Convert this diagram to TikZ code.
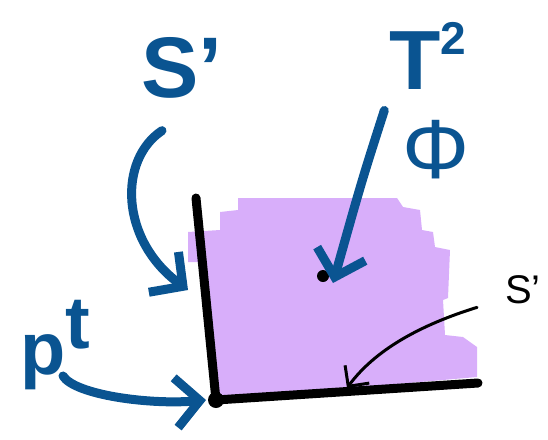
\documentclass[tikz,border=0pt]{standalone}
\usepackage{fontspec}
\setmainfont{Liberation Sans}
\usetikzlibrary{arrows.meta,positioning,calc}
\usepackage{xcolor}
\definecolor{SketchBlue}{HTML}{0A5491}
\definecolor{SketchLilac}{HTML}{D8AEFA}

\begin{document}
\begin{tikzpicture}[x=1pt,y=-1pt,line cap=round,line join=round,
    every node/.style={inner sep=0pt,text=SketchBlue,font=\bfseries},
    bluearrow/.style={-{Straight Barb[length=24pt,width=50pt]},line width=9pt,SketchBlue},
    thinarrow/.style={-{Straight Barb[length=15pt,width=30pt]},line width=3pt,black}]
    \useasboundingbox (0,0) rectangle (548,439);
    % shaded quadrant
    \fill[SketchLilac] (188,262) -- (188,232) -- (220,230) -- (220,212) -- (238,210) -- (238,198) -- (397,198) -- (403,207) -- (420,210) -- (422,230) -- (433,232) -- (435,247) -- (450,250) -- (448,298) -- (443,300) -- (445,335) -- (463,337) -- (477,347) -- (477,377) -- (216,400) -- (206,262) -- cycle;
    \coordinate (origin) at (216,400);
    \coordinate (ytop) at (196,198);
    \coordinate (xend) at (478,383);
    \coordinate (ycross) at (188,290);
    \coordinate (tdot) at (333,283);
    \coordinate (xcross) at (347,388);
    \draw[line width=9pt] (ytop) -- (origin) -- (xend);
    \fill (origin) circle (8pt);
    \fill (323,276) circle (6pt);
    % labels
    \node[font=\bfseries\fontsize{86}{86}\selectfont] (sone) at (182,68) {S'};
    \node[font=\bfseries\fontsize{84}{84}\selectfont] (ttwo) at (428,56) {T\raisebox{0.42em}{\fontsize{46}{46}\selectfont 2}};
    \node[font=\fontsize{84}{84}\selectfont] (phi) at (436,150) {Φ};
    \node[font=\bfseries\fontsize{74}{74}\selectfont] (pt) at (55,345) {p\raisebox{0.35em}{t}};
    \node[text=black,font=\fontsize{40}{40}\selectfont] (sonex) at (523,290) {S'};
    % arrows
    \draw[bluearrow] ([xshift=-20pt,yshift=-32pt]sone.south) .. controls (118,160) and (120,240) .. (ycross);
    \draw[bluearrow] ([xshift=-18pt,yshift=10pt]phi.north west) .. controls (362,180) .. (tdot);
    \draw[bluearrow] ([xshift=8pt,yshift=14pt]pt.south) .. controls (75,395) and (150,405) .. ([xshift=-10pt]origin);
    \draw[thinarrow] ([xshift=-28pt,yshift=-3pt]sonex.south west) .. controls (420,325) and (375,350) .. (xcross);
\end{tikzpicture}
\end{document}
